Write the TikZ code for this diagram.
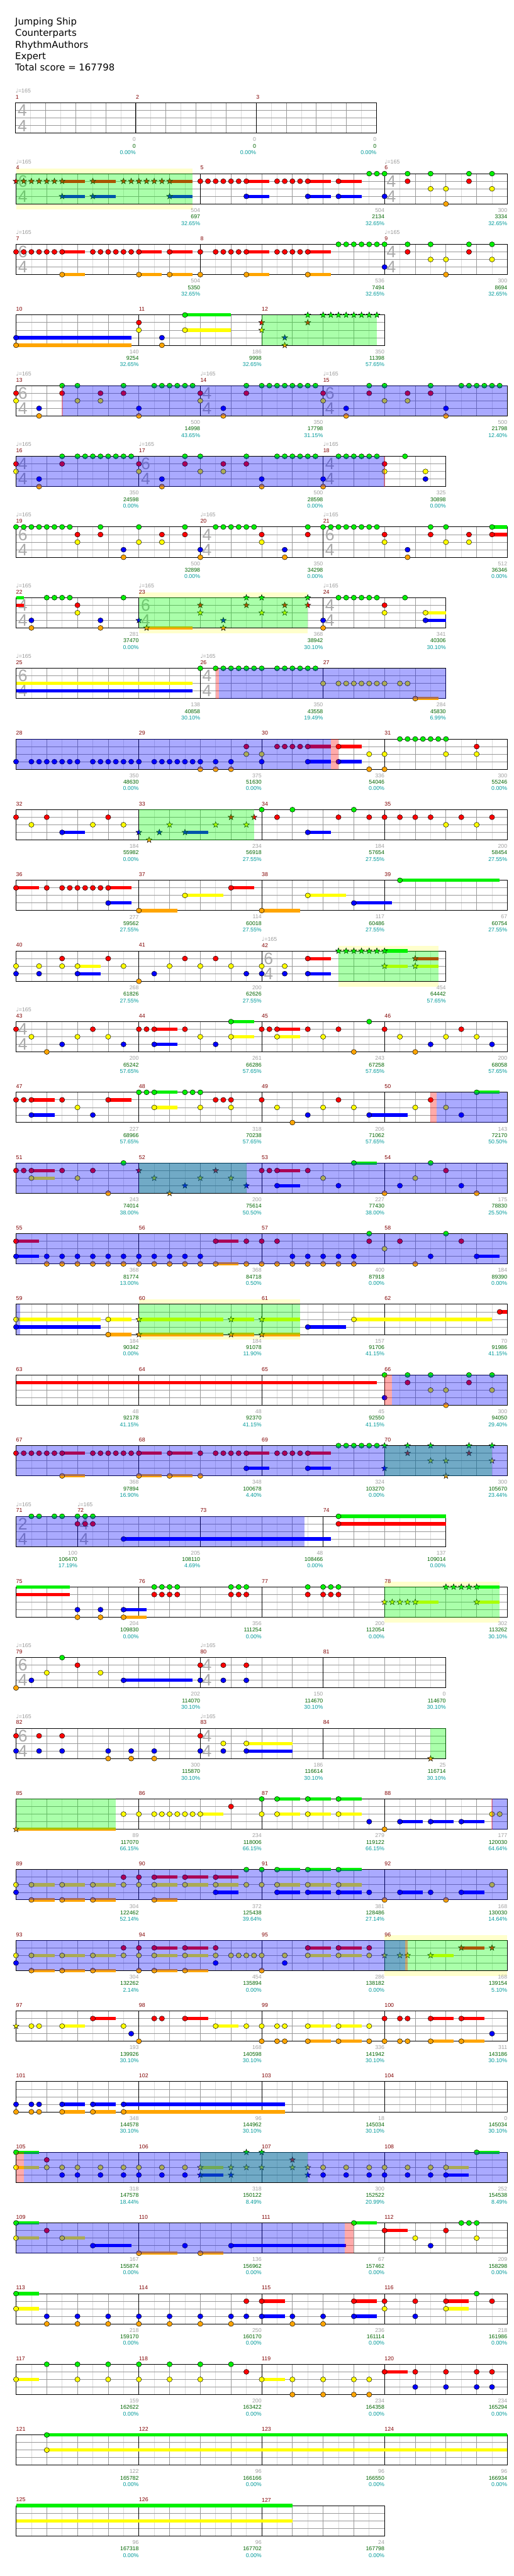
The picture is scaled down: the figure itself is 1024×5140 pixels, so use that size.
\documentclass[tikz,border=0pt]{standalone}
\usepackage{fontspec}
\setmainfont{DejaVu Sans}
\newfontfamily\numf{Liberation Sans}
\newfontfamily\symf{DejaVu Sans}
\usepackage{tikz}
\definecolor{lane0}{HTML}{00F000}
\definecolor{lane1}{HTML}{FF0000}
\definecolor{lane2}{HTML}{FFFF00}
\definecolor{lane3}{HTML}{0000FF}
\definecolor{lane4}{HTML}{FFA500}
\definecolor{mred}{HTML}{800000}
\definecolor{sgrey}{HTML}{A0A0A0}
\definecolor{sgrn}{HTML}{006400}
\definecolor{steal}{HTML}{009999}
\definecolor{tsgrey}{HTML}{AAAAAA}
\definecolor{tgrey}{HTML}{999999}
\definecolor{spyel}{HTML}{FFFFCC}

% staff of one row, #1 = length in sixteenths
\newcommand{\staff}[1]{%
  \fill[white] (0,0) rectangle (#1,60.4);
  \pgfmathtruncatemacro{\lastl}{#1-2}%
  \pgfmathtruncatemacro{\lastb}{#1-4}%
  \foreach \i in {2,6,...,\lastl} \draw[halfgrid] (\i,0) -- (\i,60.4);
  \foreach \i in {4,8,...,\lastb} \draw[beatgrid] (\i,0) -- (\i,60.4);
  \foreach \j in {15.1,30.2,45.3} \draw[lanegrid] (0,\j) -- (#1,\j);
  \draw[border] (0,0) rectangle (#1,60.4);}
% measure: start, end, number, base score, total, percent
\newcommand{\meas}[6]{%
  \draw[border] (#1,0) -- (#1,60.4);
  \node[mnum] (m#3) at (#1,-11.5) {#3};
  \node[sgray] (m#3a) at (#2,73) {#4};
  \node[sgreen] (m#3b) at (#2,86) {#5};
  \node[spct] (m#3c) at (#2,99) {#6\%};}
% time signature and tempo: start, measure, upper digit
\newcommand{\tsig}[3]{%
  \node[tsnum] (ts#2a) at ([xshift=10.1pt]#1,15.1) {#3};
  \node[tsnum] (ts#2b) at ([xshift=10.1pt]#1,45.3) {4};
  \node[tempo] (bpm#2) at (#1,-24) {{\symf ♩}=165};}
% notes
\newcommand{\nt}[2]{\filldraw[note, fill=lane#1] (#2,{#1*15.1}) ellipse [x radius=3.9pt, y radius=3.75pt];}
\newcommand{\hold}[3]{\fill[lane#1] (#2,{#1*15.1-3.3}) rectangle (#3,{#1*15.1+3.3});}
\newcommand{\sus}[3]{\hold{#1}{#2}{#3}\nt{#1}{#2}}
\newcommand{\sn}[2]{\filldraw[note, fill=lane#1, shift={(#2,{#1*15.1})}]
  (90:4.6pt) -- (126:1.9pt) -- (162:4.6pt) -- (198:1.9pt) -- (234:4.6pt) -- (270:1.9pt)
  -- (306:4.6pt) -- (342:1.9pt) -- (18:4.6pt) -- (54:1.9pt) -- cycle;}
\newcommand{\ssus}[3]{\hold{#1}{#2}{#3}\sn{#1}{#2}}
\newcommand{\nts}[2]{\foreach \p in {#2}{\nt{#1}{\p}}}
\newcommand{\suss}[2]{\foreach \p/\q in {#2}{\sus{#1}{\p}{\q}}}
\newcommand{\sns}[2]{\foreach \p in {#2}{\sn{#1}{\p}}}
\newcommand{\ssuss}[2]{\foreach \p/\q in {#2}{\ssus{#1}{\p}{\q}}}
% overlays
\newcommand{\spy}[2]{\fill[spyel] (#1,-10) rectangle (#2,70.8);}
\newcommand{\spw}[2]{\fill[spgreen] (#1,0) rectangle (#2,60.4);}
\newcommand{\solo}[2]{\fill[soloblue] (#1,0) rectangle (#2,60.4);}
\newcommand{\act}[2]{\fill[actpink] (#1,0) rectangle (#2,60.4);}

\begin{document}
\begin{tikzpicture}[
  x=0.75pt, y=-0.75pt,
  halfgrid/.style={draw=black!14, line width=0.75pt},
  beatgrid/.style={draw=black!40, line width=0.75pt},
  lanegrid/.style={draw=black!40, line width=0.75pt},
  border/.style={draw=black, line width=0.9pt},
  note/.style={draw=black, line width=0.45pt},
  spgreen/.style={fill=green, fill opacity=0.333},
  soloblue/.style={fill=blue, fill opacity=0.333},
  actpink/.style={fill=red, fill opacity=0.333},
  mnum/.style={font=\numf\fontsize{8.3}{9}\selectfont, text=mred, inner sep=0pt, anchor=west},
  sgray/.style={font=\numf\fontsize{8.3}{9}\selectfont, text=sgrey, inner sep=0pt, anchor=east},
  sgreen/.style={font=\numf\fontsize{8.3}{9}\selectfont, text=sgrn, inner sep=0pt, anchor=east},
  spct/.style={font=\numf\fontsize{8.3}{9}\selectfont, text=steal, inner sep=0pt, anchor=east},
  tsnum/.style={font=\numf\fontsize{25}{25}\selectfont, text=tsgrey, inner sep=0pt},
  tempo/.style={font=\numf\fontsize{8.3}{9}\selectfont, text=tgrey, inner sep=0pt, anchor=west},
  title/.style={font=\fontsize{14}{16}\selectfont, inner sep=0pt, anchor=base west}
]
\useasboundingbox (0,0) rectangle (1024,5140);

\node[title] (song) at (30,49.7) {Jumping Ship};
\node[title] (band) at (30,72.3) {Counterparts};
\node[title] (chart) at (30,95.7) {RhythmAuthors};
\node[title] (diff) at (30,118.3) {Expert};
\node[title] (total) at (30,141) {Total score = 167798};

% row 1
\begin{scope}[shift={(31,205.5)}, x=11.25pt]
\staff{48}
\meas{0}{16}{1}{0}{0}{0.00}\meas{16}{32}{2}{0}{0}{0.00}\meas{32}{48}{3}{0}{0}{0.00}
\tsig{0}{1}{4}
\end{scope}

% row 2
\begin{scope}[shift={(32,346.5)}, x=11.484375pt]
\spy{0}{23}
\staff{64}
\meas{0}{24}{4}{504}{697}{32.65}\meas{24}{48}{5}{504}{2134}{32.65}\meas{48}{64}{6}{300}{3334}{32.65}
\tsig{0}{4}{6}\tsig{48}{6}{4}
\ssuss{1}{6/9,10/13,20/23}
\sns{1}{0,1,2,3,4,5,14,15,16,17,18,19}
\ssuss{3}{6/9,10/13,20/23}
\nts{1}{24,25,26,27,28,29,34,35,36,37,51,59}
\suss{1}{30/33,38/41,42/45}
\suss{3}{30/33,38/41,42/45}
\nts{3}{48}
\nts{0}{46,47,48,51,54,59,62}
\nts{2}{54,56,62}
\nts{4}{56}
\spw{0}{23}
\end{scope}

% row 3
\begin{scope}[shift={(32,487.5)}, x=11.484375pt]
\staff{64}
\meas{0}{24}{7}{504}{5350}{32.65}\meas{24}{48}{8}{536}{7494}{32.65}\meas{48}{64}{9}{300}{8694}{32.65}
\tsig{0}{7}{6}\tsig{48}{9}{4}
\nts{1}{0,1,2,3,4,5,10,11,12,13,14,15,24,26,27,28,29,34,35,36,37,51,59}
\suss{1}{6/9,16/19,20/23,30/33,38/41}
\nts{4}{24,56}
\suss{4}{6/9,16/19,20/23,30/33,38/41}
\nts{0}{42,43,44,45,46,47,48,51,54,59,62}
\nts{2}{54,56,62}
\nts{3}{48}
\end{scope}

% row 4
\begin{scope}[shift={(32,628.5)}, x=11.484375pt]
\staff{48}
\meas{0}{16}{10}{140}{9254}{32.65}\meas{16}{32}{11}{186}{9998}{32.65}\meas{32}{48}{12}{350}{11398}{57.65}
\suss{3}{0/15}\suss{4}{0/15}
\nts{1}{16}\nts{2}{16}\nts{3}{19}\nts{4}{19}
\suss{0}{22/28}\suss{2}{22/28}
\sns{1}{32,38}\sns{2}{32}\sns{3}{35}\sns{4}{35}
\sns{0}{38,40,41,42,43,44,45,46,47}
\spw{32}{47}
\end{scope}

% row 5
\begin{scope}[shift={(32,769.5)}, x=11.484375pt]
\staff{64}
\meas{0}{24}{13}{500}{14998}{43.65}\meas{24}{40}{14}{350}{17798}{31.15}\meas{40}{64}{15}{500}{21798}{12.40}
\tsig{0}{13}{6}\tsig{24}{14}{4}\tsig{40}{15}{6}
\nts{1}{0,6,11,14,24,30,40,46,51,54}
\nts{2}{0,8,11,24,40,48,51}
\nts{3}{3,16,27,43,56}
\nts{4}{3,16,27,43,56}
\nts{0}{6,8,14,18,19,20,21,22,23,30,32,33,34,35,36,37,38,39,46,48,54,58,59,60,61,62,63}
\solo{6}{64}\act{5.93}{6.07}
\end{scope}

% row 6
\begin{scope}[shift={(32,910.5)}, x=11.484375pt]
\staff{56}
\meas{0}{16}{16}{350}{24598}{0.00}\meas{16}{40}{17}{500}{28598}{0.00}\meas{40}{56}{18}{325}{30898}{0.00}
\tsig{0}{16}{4}\tsig{16}{17}{6}\tsig{40}{18}{4}
\nts{1}{0,6,16,22,27,30,48}
\nts{2}{0,16,24,27,48,53.333}
\nts{3}{3,19,32,40,53.333}
\nts{4}{3,19,32,40}
\nts{0}{6,8,9,10,11,12,13,14,15,22,24,30,34,35,36,37,38,39,42,43,44,45,46,47,50.667}
\solo{0}{48}\act{47.93}{48.07}
\end{scope}

% row 7
\begin{scope}[shift={(32,1051.5)}, x=11.484375pt]
\staff{64}
\meas{0}{24}{19}{500}{32898}{0.00}\meas{24}{40}{20}{350}{34298}{0.00}\meas{40}{64}{21}{512}{36346}{0.00}
\tsig{0}{19}{6}\tsig{24}{20}{4}\tsig{40}{21}{6}
\nts{0}{0,1,2,3,4,5,6,7,11,16,22,26,27,28,29,30,31,38,40,41,42,43,44,45,46,47,54,56}
\suss{0}{62/64}
\nts{1}{8,11,19,22,32,38,48,54,59}
\suss{1}{62/64}
\nts{2}{8,16,19,32,48,56,59}
\nts{3}{14,24,35,51}
\nts{4}{14,24,35,51}
\end{scope}

% row 8
\begin{scope}[shift={(32,1192.5)}, x=11.484375pt]
\spy{16}{38}
\staff{56}
\meas{0}{16}{22}{281}{37470}{0.00}\meas{16}{40}{23}{368}{38942}{30.10}\meas{40}{56}{24}{341}{40306}{30.10}
\tsig{0}{22}{4}\tsig{16}{23}{6}\tsig{40}{24}{4}
\hold{0}{0}{1}\hold{1}{0}{1}
\nts{0}{4,5,6,7,14,42,43,44,45,46,47,50.667}
\nts{1}{8,48}
\nts{2}{8,48}
\nts{3}{2,11,40}
\nts{4}{2,11,40}
\sns{3}{16,27}
\ssuss{4}{17/23}
\sns{4}{27}
\sns{1}{24,30,35,38}
\sns{2}{24,32,35}
\sns{0}{30,32,38}
\suss{2}{53.333/56}\suss{3}{53.333/56}
\spw{16}{38}
\end{scope}

% row 9
\begin{scope}[shift={(32,1333.5)}, x=11.484375pt]
\staff{56}
\meas{0}{24}{25}{138}{40858}{30.10}\meas{24}{40}{26}{350}{43558}{19.49}\meas{40}{56}{27}{284}{45830}{6.99}
\tsig{0}{25}{6}\tsig{24}{26}{4}
\hold{2}{0}{23}\hold{3}{0}{23}
\nts{0}{24,26,27,28,29,30,31,32,34,35,36,37,38,39}
\nts{2}{40,42,43,44,45,46,47,48,50,51}
\suss{4}{52/55}
\solo{26.4}{56}\act{26}{26.4}
\end{scope}

% row 10
\begin{scope}[shift={(32,1474.5)}, x=11.484375pt]
\staff{64}
\meas{0}{16}{28}{350}{48630}{0.00}\meas{16}{32}{29}{375}{51630}{0.00}\meas{32}{48}{30}{336}{54046}{0.00}\meas{48}{64}{31}{300}{55246}{0.00}
\nts{3}{0,2,3,4,5,6,7,8,10,11,12,13,14,15,16,18,19,20,21,22,23,24,26,28,32}
\suss{3}{38/41,42/45}
\nts{1}{30,34,35,36,37,60}
\suss{1}{38/41,42/45}
\nts{2}{30,32,46,48,56,60}
\nts{4}{24,26,28,46,48}
\nts{0}{50,51,52,53,54,55,56}
\solo{0}{41}\act{41}{42}
\end{scope}

% row 11
\begin{scope}[shift={(32,1615.5)}, x=11.484375pt]
\staff{64}
\meas{0}{16}{32}{184}{55982}{0.00}\meas{16}{32}{33}{234}{56918}{27.55}\meas{32}{48}{34}{184}{57654}{27.55}\meas{48}{64}{35}{200}{58454}{27.55}
\nts{1}{0,4,12,34,42,46,48,50,52,54,58,62}
\sns{1}{28,31}
\nts{2}{2,10,14,56,60}
\sns{2}{20,26,30}
\suss{3}{6/9,38/41}
\sns{3}{16,18.667}
\ssuss{3}{22/25}
\sns{4}{17.333}
\nts{0}{32,36,44}
\spw{16}{31}
\end{scope}

% row 12
\begin{scope}[shift={(32,1756.5)}, x=11.484375pt]
\staff{64}
\meas{0}{16}{36}{277}{59562}{27.55}\meas{16}{32}{37}{114}{60018}{27.55}\meas{32}{48}{38}{117}{60486}{27.55}\meas{48}{64}{39}{67}{60754}{27.55}
\suss{1}{0/3,12/15,28/31}
\nts{1}{4,6,7,8,9,10,11}
\suss{3}{12/15,44/49}
\suss{4}{16/21,32/37}
\suss{2}{22/27,38/43}
\suss{0}{50/63}
\end{scope}

% row 13
\begin{scope}[shift={(32,1897.5)}, x=11.484375pt]
\spy{42}{55}
\staff{56}
\meas{0}{16}{40}{268}{61826}{27.55}\meas{16}{32}{41}{200}{62626}{27.55}\meas{32}{56}{42}{454}{64442}{57.65}
\tsig{32}{42}{6}
\nts{2}{0,3,6,14,20,24,28,32,35}
\suss{2}{8/11}
\nts{3}{0,3,18,30,32,35}
\suss{3}{8/11,38/41}
\nts{1}{6,12,22,26}
\suss{1}{38/41}
\nts{4}{16}
\sns{0}{42,43,44,45,46,47}
\ssuss{0}{48/51}
\ssuss{2}{48/51,52/55}
\ssuss{1}{52/55}
\spw{42}{55}
\end{scope}

% row 14
\begin{scope}[shift={(32,2038.5)}, x=11.484375pt]
\staff{64}
\meas{0}{16}{43}{200}{65242}{57.65}\meas{16}{32}{44}{261}{66286}{57.65}\meas{32}{48}{45}{243}{67258}{57.65}\meas{48}{64}{46}{200}{68058}{57.65}
\tsig{0}{43}{4}
\nts{1}{0,10,16,17,22,32,33,38,42,48,58}
\suss{1}{18/21,34/37}
\nts{2}{2,8,12,24,40,50,56,60}
\suss{2}{28/31,34/37}
\nts{3}{6,14,26,54,62}
\suss{3}{18/21}
\nts{4}{4,44,52}
\suss{0}{28/31}
\nts{0}{46}
\end{scope}

% row 15
\begin{scope}[shift={(32,2179.5)}, x=11.484375pt]
\staff{64}
\meas{0}{16}{47}{227}{68966}{57.65}\meas{16}{32}{48}{318}{70238}{57.65}\meas{32}{48}{49}{206}{71062}{57.65}\meas{48}{64}{50}{143}{72170}{50.50}
\nts{1}{0,1,6,26,27,28,32,42,54}
\suss{1}{2/5,12/15}
\suss{3}{2/5,46/51}
\nts{3}{10,38,58}
\nts{2}{8,24,28,34,40,44,52,56}
\suss{2}{18/21}
\nts{0}{16,17,22,23,24}
\suss{0}{18/21,60/63}
\nts{4}{36}
\solo{54.8}{64}\act{54}{54.8}
\end{scope}

% row 16
\begin{scope}[shift={(32,2320.5)}, x=11.484375pt]
\staff{64}
\meas{0}{16}{51}{243}{74014}{38.00}\meas{16}{32}{52}{200}{75614}{50.50}\meas{32}{48}{53}{227}{77430}{38.00}\meas{48}{64}{54}{175}{78830}{25.50}
\nts{1}{0,1,6,10,32,33,38,56}
\suss{1}{2/5,34/37}
\sns{1}{16,26}
\suss{2}{2/5}
\nts{2}{8,40,52}
\sns{2}{18,24,28}
\nts{0}{14,54}
\suss{0}{44/47}
\nts{4}{12,48,60}
\sns{4}{20}
\sns{3}{22,30}
\suss{3}{34/37}
\nts{3}{42,50,58}
\spw{16}{30}
\solo{0}{64}
\end{scope}

% row 17
\begin{scope}[shift={(32,2461.5)}, x=11.484375pt]
\staff{64}
\meas{0}{16}{55}{368}{81774}{13.00}\meas{16}{32}{56}{368}{84718}{0.50}\meas{32}{48}{57}{400}{87918}{0.00}\meas{48}{64}{58}{184}{89390}{0.00}
\suss{1}{0/3,26/29}
\nts{1}{30,32,34,46,50,58}
\suss{3}{0/3,60/63}
\nts{3}{4,6,8,10,12,14,16,18,20,22,24,36,38,40,42,44,54}
\nts{4}{4,6,8,10,12,14,16,18,20,22,24,30,32,34,36,38,40,42,44,52}
\suss{4}{26/29}
\nts{0}{46,56}
\nts{2}{48}
\solo{0}{64}
\end{scope}

% row 18
\begin{scope}[shift={(32,2602.5)}, x=11.484375pt]
\spy{16}{37}
\staff{64}
\meas{0}{16}{59}{184}{90342}{0.00}\meas{16}{32}{60}{184}{91078}{11.90}\meas{32}{48}{61}{157}{91706}{41.15}\meas{48}{64}{62}{70}{91986}{41.15}
\suss{2}{0/11,12/15,44/62}
\ssuss{2}{16/27,28/31,32/37}
\suss{3}{0/11,38/43}
\suss{4}{12/15}
\ssuss{4}{16/27,28/31,32/37}
\suss{1}{63/64}
\spw{16}{37}
\solo{0}{0.55}
\end{scope}

% row 19
\begin{scope}[shift={(32,2743.5)}, x=11.484375pt]
\staff{64}
\meas{0}{16}{63}{48}{92178}{41.15}\meas{16}{32}{64}{48}{92370}{41.15}\meas{32}{48}{65}{45}{92550}{41.15}\meas{48}{64}{66}{300}{94050}{29.40}
\hold{1}{0}{47}
\nts{0}{48,51,54,59,62}
\nts{3}{48}
\nts{1}{51,59}
\nts{2}{54,56,62}
\nts{4}{56}
\solo{48.93}{64}\act{48}{48.93}
\end{scope}

% row 20
\begin{scope}[shift={(32,2884.5)}, x=11.484375pt]
\staff{64}
\meas{0}{16}{67}{368}{97894}{16.90}\meas{16}{32}{68}{348}{100678}{4.40}\meas{32}{48}{69}{324}{103270}{0.00}\meas{48}{64}{70}{300}{105670}{23.44}
\nts{1}{0,1,2,3,4,5,10,11,12,13,14,15,24,26,27,28,29,34,35,36,37}
\suss{1}{6/9,16/19,20/23,30/33,38/41}
\sns{1}{51,59}
\suss{4}{6/9,16/19,20/23}
\nts{4}{24}
\sns{4}{56}
\suss{3}{30/33,38/41}
\sns{3}{48}
\nts{0}{42,43,44,45,46,47}
\sns{0}{48,51,54,59,62}
\sns{2}{54,56,62}
\spw{48}{62}
\solo{0}{64}
\end{scope}

% row 21
\begin{scope}[shift={(32,3025.5)}, x=11.484375pt]
\staff{56}
\meas{0}{8}{71}{100}{106470}{17.19}\meas{8}{24}{72}{205}{108110}{4.69}\meas{24}{40}{73}{48}{108466}{0.00}\meas{40}{56}{74}{137}{109014}{0.00}
\tsig{0}{71}{2}\tsig{8}{72}{4}
\nts{0}{2,3,5,6,8,9,10}
\suss{0}{42/56}
\nts{1}{8,9,10}
\suss{1}{42/56}
\suss{3}{14/41}
\solo{0}{37.6}
\end{scope}

% row 22
\begin{scope}[shift={(32,3166.5)}, x=11.484375pt]
\spy{48}{63}
\staff{64}
\meas{0}{16}{75}{204}{109830}{0.00}\meas{16}{32}{76}{356}{111254}{0.00}\meas{32}{48}{77}{200}{112054}{0.00}\meas{48}{64}{78}{302}{113262}{30.10}
\hold{0}{0}{7}\hold{1}{0}{7}
\nts{0}{18,19,20,21,28,29,30,38,40,41,42}
\nts{1}{18,19,20,21,28,29,30,38,40,41,42}
\sns{0}{56,57,58,59}
\ssuss{0}{60/63}
\nts{3}{8,11}\suss{3}{14/17}
\nts{4}{8,11}\suss{4}{14/17}
\sns{2}{48,49,50,51}
\ssuss{2}{52/55,60/63}
\spw{48}{63}
\end{scope}

% row 23
\begin{scope}[shift={(32,3307.5)}, x=11.484375pt]
\staff{56}
\meas{0}{24}{79}{202}{114070}{30.10}\meas{24}{40}{80}{150}{114670}{30.10}\meas{40}{56}{81}{0}{114670}{30.10}
\tsig{0}{79}{6}\tsig{24}{80}{4}
\nts{4}{0}
\nts{3}{2,24,27,30}
\suss{3}{14/23}
\nts{2}{4,11}
\nts{0}{6}
\nts{1}{8,24,27,30}
\end{scope}

% row 24
\begin{scope}[shift={(32,3448.5)}, x=11.484375pt]
\staff{56}
\meas{0}{24}{82}{300}{115870}{30.10}\meas{24}{40}{83}{186}{116614}{30.10}\meas{40}{56}{84}{25}{116714}{30.10}
\tsig{0}{82}{6}\tsig{24}{83}{4}
\nts{1}{0,3,6,24}
\nts{3}{0,3,6,12,15,18,24,27}
\suss{3}{30/36}
\nts{4}{12,15,18}
\nts{2}{27}
\suss{2}{30/36}
\sns{4}{54}
\spw{54}{56}
\end{scope}

% row 25
\begin{scope}[shift={(32,3589.5)}, x=11.484375pt]
\staff{64}
\meas{0}{16}{85}{89}{117070}{66.15}\meas{16}{32}{86}{234}{118006}{66.15}\meas{32}{48}{87}{279}{119122}{66.15}\meas{48}{64}{88}{177}{120030}{64.64}
\ssuss{4}{0/13}
\nts{2}{14,16,18,19,20,21,22,23,32,62,63}
\suss{2}{24/27,34/37,38/41,42/45}
\nts{1}{28}
\nts{0}{32}
\suss{0}{34/37,38/41,42/45}
\nts{3}{46}
\suss{3}{50/53,54/57,58/61}
\nts{4}{48}
\spw{0}{13}
\solo{62}{64}\act{61.93}{62.07}
\end{scope}

% row 26
\begin{scope}[shift={(32,3730.5)}, x=11.484375pt]
\staff{64}
\meas{0}{16}{89}{304}{122462}{52.14}\meas{16}{32}{90}{372}{125438}{39.64}\meas{32}{48}{91}{381}{128486}{27.14}\meas{48}{64}{92}{168}{130030}{14.64}
\nts{2}{0,14,16,30,32,62}
\suss{2}{2/5,6/9,10/13,18/21,22/25,26/29,34/37,38/41,42/45}
\nts{3}{0,46,54}
\suss{3}{26/29,34/37,38/41,42/45,50/53,58/61}
\suss{4}{2/5,6/9,10/13,18/21}
\nts{4}{48,56}
\nts{1}{14,16}
\suss{1}{18/21,22/25,26/29}
\nts{0}{30,32}
\suss{0}{34/37,38/41,42/45}
\solo{0}{64}
\end{scope}

% row 27
\begin{scope}[shift={(32,3871.5)}, x=11.484375pt]
\spy{48}{64}
\staff{64}
\meas{0}{16}{93}{304}{132262}{2.14}\meas{16}{32}{94}{454}{135894}{0.00}\meas{32}{48}{95}{286}{138182}{0.00}\meas{48}{64}{96}{168}{139154}{5.10}
\nts{2}{0,14,16,26,28,29,30,31,32,35,46}
\suss{2}{2/5,6/9,10/13,18/21,22/25,38/41,42/45}
\sns{2}{48,50,51}
\ssuss{2}{54/57}
\nts{3}{0,26,35}
\suss{4}{2/5,6/9,10/13,18/21,22/25}
\nts{4}{16,32}
\nts{1}{14,16,26,46}
\suss{1}{18/21,22/25,38/41,42/45}
\ssuss{1}{58/61}
\sns{1}{62}
\spw{48}{64}
\solo{0}{50.7}\act{50.7}{51}
\end{scope}

% row 28
\begin{scope}[shift={(32,4012.5)}, x=11.484375pt]
\staff{64}
\meas{0}{16}{97}{193}{139926}{30.10}\meas{16}{32}{98}{168}{140598}{30.10}\meas{32}{48}{99}{336}{141942}{30.10}\meas{48}{64}{100}{311}{143186}{30.10}
\sns{2}{0}
\nts{2}{2,3,14,30,32,34,35,46}
\suss{2}{6/9,26/29,38/41,42/45}
\suss{1}{10/13,22/25,54/57,58/61}
\nts{1}{18,19,48,50,51}
\nts{3}{15,62}
\nts{4}{16,32,34,35,46,48,50,51}
\suss{4}{38/41,42/45,54/57,58/61}
\end{scope}

% row 29
\begin{scope}[shift={(32,4153.5)}, x=11.484375pt]
\staff{64}
\meas{0}{16}{101}{348}{144578}{30.10}\meas{16}{32}{102}{96}{144962}{30.10}\meas{32}{48}{103}{18}{145034}{30.10}\meas{48}{64}{104}{0}{145034}{30.10}
\nts{3}{0,2,3}\suss{3}{6/9,10/13,14/35}
\nts{4}{0,2,3}\suss{4}{6/9,10/13,14/35}
\end{scope}

% row 30
\begin{scope}[shift={(32,4294.5)}, x=11.484375pt]
\staff{64}
\meas{0}{16}{105}{318}{147578}{18.44}\meas{16}{32}{106}{318}{150122}{8.49}\meas{32}{48}{107}{300}{152522}{20.99}\meas{48}{64}{108}{252}{154538}{8.49}
\suss{0}{0/3,60/63}
\sns{0}{30,32}
\suss{2}{0/3,56/59}
\nts{2}{4,6,8,11,14,16,19,22,40,43,46,48,51,54}
\ssuss{2}{24/27}
\sns{2}{28,30,32,36,38}
\nts{1}{4}
\sns{1}{36}
\nts{3}{6,8,11,14,16,19,22,40,43,46,48,51,54}
\suss{3}{56/59}
\ssuss{3}{24/27}
\sns{3}{28,38}
\spw{24}{38}
\solo{1}{64}\act{0}{1}
\end{scope}

% row 31
\begin{scope}[shift={(32,4435.5)}, x=11.484375pt]
\staff{64}
\meas{0}{16}{109}{167}{155874}{0.00}\meas{16}{32}{110}{136}{156962}{0.00}\meas{32}{48}{111}{67}{157462}{0.00}\meas{48}{64}{112}{209}{158298}{0.00}
\suss{0}{0/3,44/47}
\nts{0}{58,59,60}
\suss{2}{0/3,6/9}
\nts{2}{52,60}
\nts{1}{4,56}
\suss{1}{48/51}
\suss{3}{10/15,28/43}
\nts{3}{22,54}
\suss{4}{16/21,24/27}
\solo{0}{42.8}\act{42.8}{44}
\end{scope}

% row 32
\begin{scope}[shift={(32,4576.5)}, x=11.484375pt]
\staff{64}
\meas{0}{16}{113}{218}{159170}{0.00}\meas{16}{32}{114}{250}{160170}{0.00}\meas{32}{48}{115}{236}{161114}{0.00}\meas{48}{64}{116}{218}{161986}{0.00}
\suss{0}{0/3}\nts{0}{60}
\suss{2}{0/3,56/59}\nts{2}{48}
\nts{3}{4,8,12,16,20,24,28,30,36,40,52}
\suss{3}{32/35,44/47}
\nts{4}{4,8,12,16,20,24,28,36,40}
\nts{1}{30,48,52,62}
\suss{1}{32/35,44/47,56/59}
\end{scope}

% row 33
\begin{scope}[shift={(32,4717.5)}, x=11.484375pt]
\staff{64}
\meas{0}{16}{117}{159}{162622}{0.00}\meas{16}{32}{118}{200}{163422}{0.00}\meas{32}{48}{119}{234}{164358}{0.00}\meas{48}{64}{120}{234}{165294}{0.00}
\nts{0}{4,8,12,16,20,24,28}
\suss{2}{0/3,32/35}
\nts{2}{8,12,16,20,24,36,40,44,46}
\nts{1}{30,52,56,60,62}
\suss{1}{48/51}
\nts{4}{36,40,44,46}
\nts{3}{52,56,60,62}
\end{scope}

% row 34
\begin{scope}[shift={(32,4858.5)}, x=11.484375pt]
\staff{64}
\meas{0}{16}{121}{122}{165782}{0.00}\meas{16}{32}{122}{96}{166166}{0.00}\meas{32}{48}{123}{96}{166550}{0.00}\meas{48}{64}{124}{96}{166934}{0.00}
\suss{0}{4/64}\suss{2}{4/64}
\end{scope}

% row 35
\begin{scope}[shift={(32,4999.5)}, x=11.484375pt]
\staff{48}
\meas{0}{16}{125}{96}{167318}{0.00}\meas{16}{32}{126}{96}{167702}{0.00}\meas{32}{48}{127}{24}{167798}{0.00}
\hold{0}{0}{36}\hold{2}{0}{36}
\end{scope}
\end{tikzpicture}
\end{document}
